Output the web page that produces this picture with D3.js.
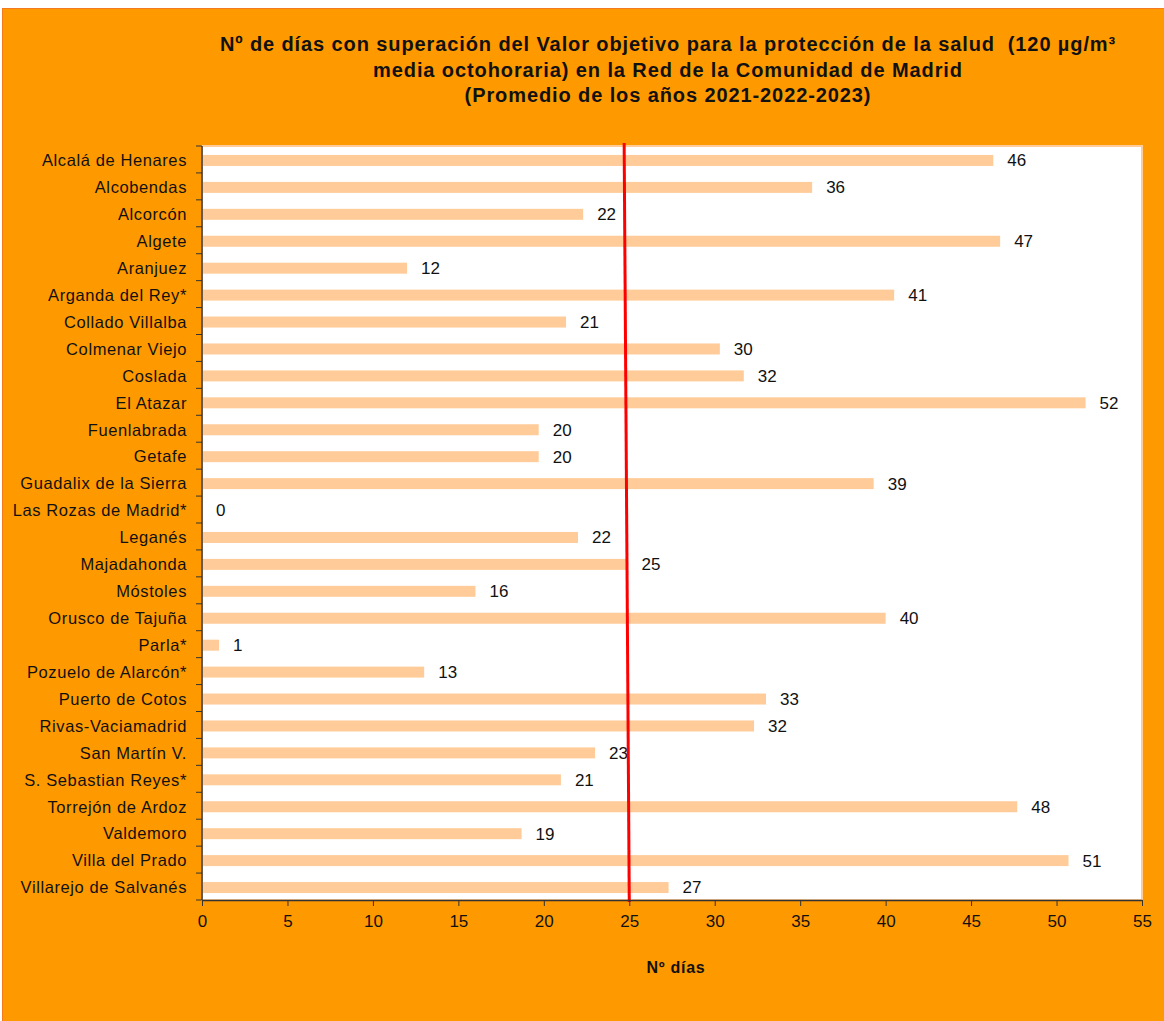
<!DOCTYPE html>
<html>
<head>
<meta charset="utf-8">
<script src="https://cdn.jsdelivr.net/npm/d3@7"></script>
<style>
  body { margin: 0; background: #fff; }
  text { font-family: "Liberation Sans", Arial, sans-serif; }
</style>
</head>
<body>
<div id="chart"></div>
<script>
// Data
const stations = [
  "Alcalá de Henares", "Alcobendas", "Alcorcón", "Algete", "Aranjuez",
  "Arganda del Rey*", "Collado Villalba", "Colmenar Viejo", "Coslada", "El Atazar",
  "Fuenlabrada", "Getafe", "Guadalix de la Sierra", "Las Rozas de Madrid*", "Leganés",
  "Majadahonda", "Móstoles", "Orusco de Tajuña", "Parla*", "Pozuelo de Alarcón*",
  "Puerto de Cotos", "Rivas-Vaciamadrid", "San Martín V.", "S. Sebastian Reyes*",
  "Torrejón de Ardoz", "Valdemoro", "Villa del Prado", "Villarejo de Salvanés"
];
const days = [
  46.3, 35.7, 22.3, 46.7, 12.0,
  40.5, 21.3, 30.3, 31.7, 51.7,
  19.7, 19.7, 39.3, 0, 22.0,
  24.9, 16.0, 40.0, 1.0, 13.0,
  33.0, 32.3, 23.0, 21.0,
  47.7, 18.7, 50.7, 27.3
];
const xTicks = [0, 5, 10, 15, 20, 25, 30, 35, 40, 45, 50, 55];
// target line (25 days), drawn slightly slanted as in the original
const targetLine = [24.7, 25.0];

const titleLines = [
  "Nº de días con superación del Valor objetivo para la protección de la salud  (120 µg/m³",
  "media octohoraria) en la Red de la Comunidad de Madrid",
  "(Promedio de los años 2021-2022-2023)"
];

const W = 1164, H = 1021;
const margin = { top: 146, right: 22, bottom: 121, left: 202 };
const width = W - margin.left - margin.right;
const height = H - margin.top - margin.bottom;

const root = d3.select("#chart").append("svg")
  .attr("width", W)
  .attr("height", H);

// orange background
root.append("rect")
  .attr("x", 2.5).attr("y", 8.5)
  .attr("width", W - 2).attr("height", H - 8)
  .attr("fill", "#FF9900")
  .attr("stroke", "#F47A20")
  .attr("stroke-width", 1);

// title
root.append("text")
  .attr("x", 668)
  .attr("y", 51)
  .attr("text-anchor", "middle")
  .attr("xml:space", "preserve")
  .style("white-space", "pre")
  .style("font-size", "20px")
  .style("font-weight", "bold")
  .style("letter-spacing", "0.9px")
  .style("fill", "#111")
  .selectAll("tspan")
  .data(titleLines)
  .enter()
  .append("tspan")
  .attr("x", 668)
  .attr("dy", (d, i) => i === 0 ? 0 : 25.5)
  .text(d => d);

const svg = root.append("g")
  .attr("transform", `translate(${margin.left}, ${margin.top})`);

// plot area
svg.append("rect")
  .attr("width", width)
  .attr("height", height)
  .attr("fill", "#fff")
  .attr("stroke", "#FFCC99")
  .attr("stroke-width", 2);

// Scales
const x = d3.scaleLinear().domain([0, 55]).range([0, width]);
const y = d3.scaleBand().domain(stations).range([0, height]).paddingInner(0).paddingOuter(0);
const barH = 11;

// bars
svg.selectAll(".bar")
  .data(stations)
  .enter()
  .append("rect")
  .attr("class", "bar")
  .attr("x", 0)
  .attr("y", d => y(d) + y.bandwidth() / 2 - barH / 2 + 1)
  .attr("width", (d, i) => x(days[i]))
  .attr("height", barH)
  .attr("fill", "#FFCC99");

// value labels
svg.selectAll(".val")
  .data(stations)
  .enter()
  .append("text")
  .attr("class", "val")
  .attr("x", (d, i) => x(days[i]) + 14)
  .attr("y", d => y(d) + y.bandwidth() / 2 + 1)
  .attr("dy", "0.35em")
  .style("font-size", "17px")
  .style("fill", "#111")
  .text((d, i) => d3.format(".0f")(days[i]));

// red line
svg.append("line")
  .attr("x1", x(targetLine[0]))
  .attr("y1", -3)
  .attr("x2", x(targetLine[1]))
  .attr("y2", height + 2)
  .attr("stroke", "#FF0000")
  .attr("stroke-width", 3);

// Y axis: ticks at band edges
const yAxis = svg.append("g");
yAxis.append("line")
  .attr("x1", 0).attr("x2", 0)
  .attr("y1", 0).attr("y2", height)
  .attr("stroke", "#333").attr("stroke-width", 1.5);
yAxis.selectAll(".ytick")
  .data(stations.concat(["__end"]))
  .enter()
  .append("line")
  .attr("x1", -6).attr("x2", 0)
  .attr("y1", (d, i) => i * y.bandwidth())
  .attr("y2", (d, i) => i * y.bandwidth())
  .attr("stroke", "#333");
yAxis.selectAll(".ylab")
  .data(stations)
  .enter()
  .append("text")
  .attr("x", -15)
  .attr("y", d => y(d) + y.bandwidth() / 2 + 1)
  .attr("dy", "0.35em")
  .attr("text-anchor", "end")
  .style("font-size", "16.5px")
  .style("letter-spacing", "0.6px")
  .style("fill", "#111")
  .text(d => d);

// X axis
const xAxis = svg.append("g")
  .attr("transform", `translate(0, ${height})`)
  .call(d3.axisBottom(x).tickValues(xTicks).tickSize(6).tickPadding(9).tickSizeOuter(0));
xAxis.select(".domain").attr("stroke", "#333").attr("stroke-width", 1.5);
xAxis.selectAll(".tick line").attr("stroke", "#333");
xAxis.selectAll("text")
  .style("font-size", "17px")
  .style("font-family", "'Liberation Sans', Arial, sans-serif")
  .style("fill", "#111");

// X axis label
svg.append("text")
  .attr("x", 474)
  .attr("y", height + 73)
  .attr("text-anchor", "middle")
  .style("font-size", "16px")
  .style("font-weight", "bold")
  .style("letter-spacing", "0.7px")
  .style("fill", "#111")
  .text("Nº días");
</script>
</body>
</html>
